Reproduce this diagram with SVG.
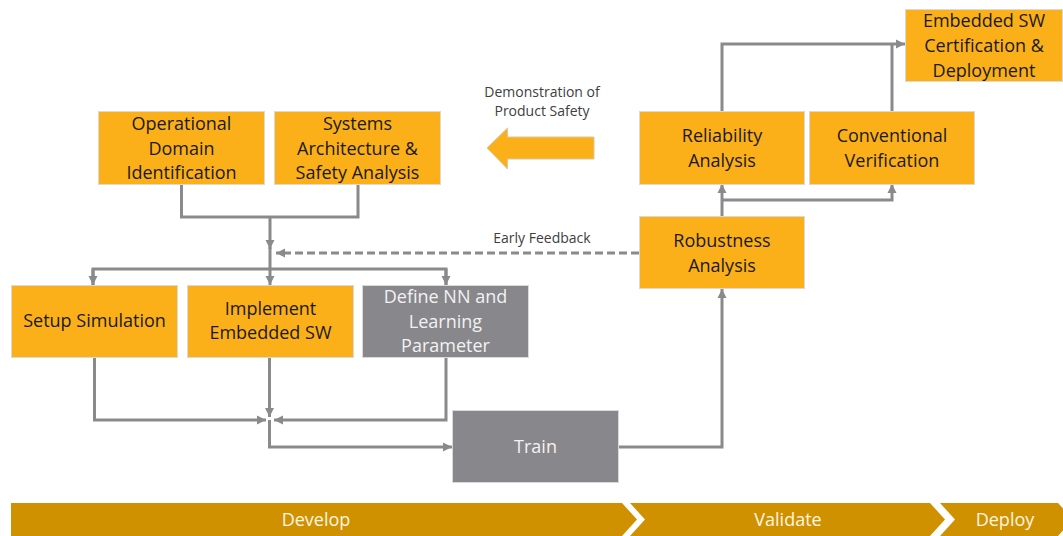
<svg xmlns="http://www.w3.org/2000/svg" width="1063" height="536" viewBox="0 0 1063 536">
<style>
.o{fill:#FBB01A;stroke:#D9D9D9;stroke-width:1}
.g{fill:#88878B;stroke:#D9D9D9;stroke-width:1}
.t{font-family:"Open Sans","Noto Sans",sans-serif;font-size:18px;fill:#1A1A1A;text-anchor:middle}
.tw{font-family:"Open Sans","Noto Sans",sans-serif;font-size:18px;fill:#F2F2F2;text-anchor:middle}
.s{font-family:"Open Sans","Noto Sans",sans-serif;font-size:14px;fill:#404040;text-anchor:middle}
.b{fill:#D09100}
.bt{font-family:"Open Sans","Noto Sans",sans-serif;font-size:18px;fill:#FFF6E0;text-anchor:middle}
.c{fill:none;stroke:#8A8A8D;stroke-width:3}
.d{fill:none;stroke:#8A8A8D;stroke-width:3;stroke-dasharray:8 4}
</style>
<defs>
<marker id="ah" markerUnits="userSpaceOnUse" markerWidth="10" markerHeight="10" refX="9" refY="5" orient="auto">
<path d="M0,0.5 L9,5 L0,9.5 Z" fill="#8A8A8D"/>
</marker>
</defs>
<rect width="1063" height="536" fill="#FFFFFF"/>

<g id="connectors">
<polyline class="c" points="181.5,184 181.5,217 358,217 358,184"/>
<polyline class="c" points="270,217 270,249" marker-end="url(#ah)"/>
<line class="c" x1="270" y1="247" x2="270" y2="269"/>
<polyline class="c" points="93,285 93,269 446,269 446,285"/>
<polyline class="c" points="93,269 93,285" marker-end="url(#ah)"/>
<polyline class="c" points="270,269 270,285" marker-end="url(#ah)"/>
<polyline class="c" points="446,269 446,285" marker-end="url(#ah)"/>
<polyline class="d" points="639,253 276,253" marker-end="url(#ah)"/>
<polyline class="c" points="94.5,357 94.5,420 266,420" marker-end="url(#ah)"/>
<polyline class="c" points="269.5,357 269.5,417" marker-end="url(#ah)"/>
<polyline class="c" points="446,357 446,420 274,420" marker-end="url(#ah)"/>
<polyline class="c" points="269.5,420 269.5,447 452,447" marker-end="url(#ah)"/>
<polyline class="c" points="619,447 722,447 722,289" marker-end="url(#ah)"/>
<polyline class="c" points="722,216 722,184" marker-end="url(#ah)"/>
<polyline class="c" points="722,200 892,200 892,184" marker-end="url(#ah)"/>
<polyline class="c" points="722,111 722,44 905,44" marker-end="url(#ah)"/>
<polyline class="c" points="892,111 892,44"/>
</g>

<g id="arrow-safety">
<polygon points="487,148 507.5,128 507.5,137 594,137 594,159 507.5,159 507.5,169" fill="#FBB01A" stroke="#D9C9A0" stroke-width="1"/>
<text class="s" x="542" y="97">Demonstration of</text>
<text class="s" x="542" y="116">Product Safety</text>
</g>
<g id="label-feedback">
<text class="s" x="542" y="243">Early Feedback</text>
</g>

<g id="op-domain">
<rect class="o" x="98.5" y="111.5" width="166" height="73"/>
<text class="t" x="181.5" y="130">Operational</text>
<text class="t" x="181.5" y="155">Domain</text>
<text class="t" x="181.5" y="179">Identification</text>
</g>
<g id="sys-arch">
<rect class="o" x="274.5" y="111.5" width="166" height="73"/>
<text class="t" x="357.5" y="130">Systems</text>
<text class="t" x="357.5" y="155">Architecture &amp;</text>
<text class="t" x="357.5" y="179">Safety Analysis</text>
</g>
<g id="setup-sim">
<rect class="o" x="11.5" y="285.5" width="166" height="72"/>
<text class="t" x="94.5" y="327">Setup Simulation</text>
</g>
<g id="implement">
<rect class="o" x="187.5" y="285.5" width="166" height="72"/>
<text class="t" x="270.5" y="315">Implement</text>
<text class="t" x="270.5" y="339">Embedded SW</text>
</g>
<g id="define-nn">
<rect class="g" x="362.5" y="285.5" width="166" height="72"/>
<text class="tw" x="445.5" y="303">Define NN and</text>
<text class="tw" x="445.5" y="328">Learning</text>
<text class="tw" x="445.5" y="352">Parameter</text>
</g>
<g id="train">
<rect class="g" x="452.5" y="410.5" width="166" height="72"/>
<text class="tw" x="535.5" y="453">Train</text>
</g>
<g id="robustness">
<rect class="o" x="639.5" y="216.5" width="165" height="72"/>
<text class="t" x="722" y="247">Robustness</text>
<text class="t" x="722" y="272">Analysis</text>
</g>
<g id="reliability">
<rect class="o" x="639.5" y="111.5" width="165" height="73"/>
<text class="t" x="722" y="142">Reliability</text>
<text class="t" x="722" y="167">Analysis</text>
</g>
<g id="conventional">
<rect class="o" x="809.5" y="111.5" width="165" height="73"/>
<text class="t" x="892" y="142">Conventional</text>
<text class="t" x="892" y="167">Verification</text>
</g>
<g id="embedded-cert">
<rect class="o" x="905.5" y="9.5" width="157" height="72"/>
<text class="t" x="984" y="27">Embedded SW</text>
<text class="t" x="984" y="52">Certification &amp;</text>
<text class="t" x="984" y="77">Deployment</text>
</g>

<g id="phase-develop">
<polygon class="b" points="11,503 622,503 637,519.5 622,536 11,536"/>
<text class="bt" x="316" y="526">Develop</text>
</g>
<g id="phase-validate">
<polygon class="b" points="630,503 930,503 945,519.5 930,536 630,536 645,519.5"/>
<text class="bt" x="788" y="526">Validate</text>
</g>
<g id="phase-deploy">
<polygon class="b" points="940,503 1058,503 1073,519.5 1058,536 940,536 955,519.5"/>
<text class="bt" x="1005" y="526">Deploy</text>
</g>
</svg>
